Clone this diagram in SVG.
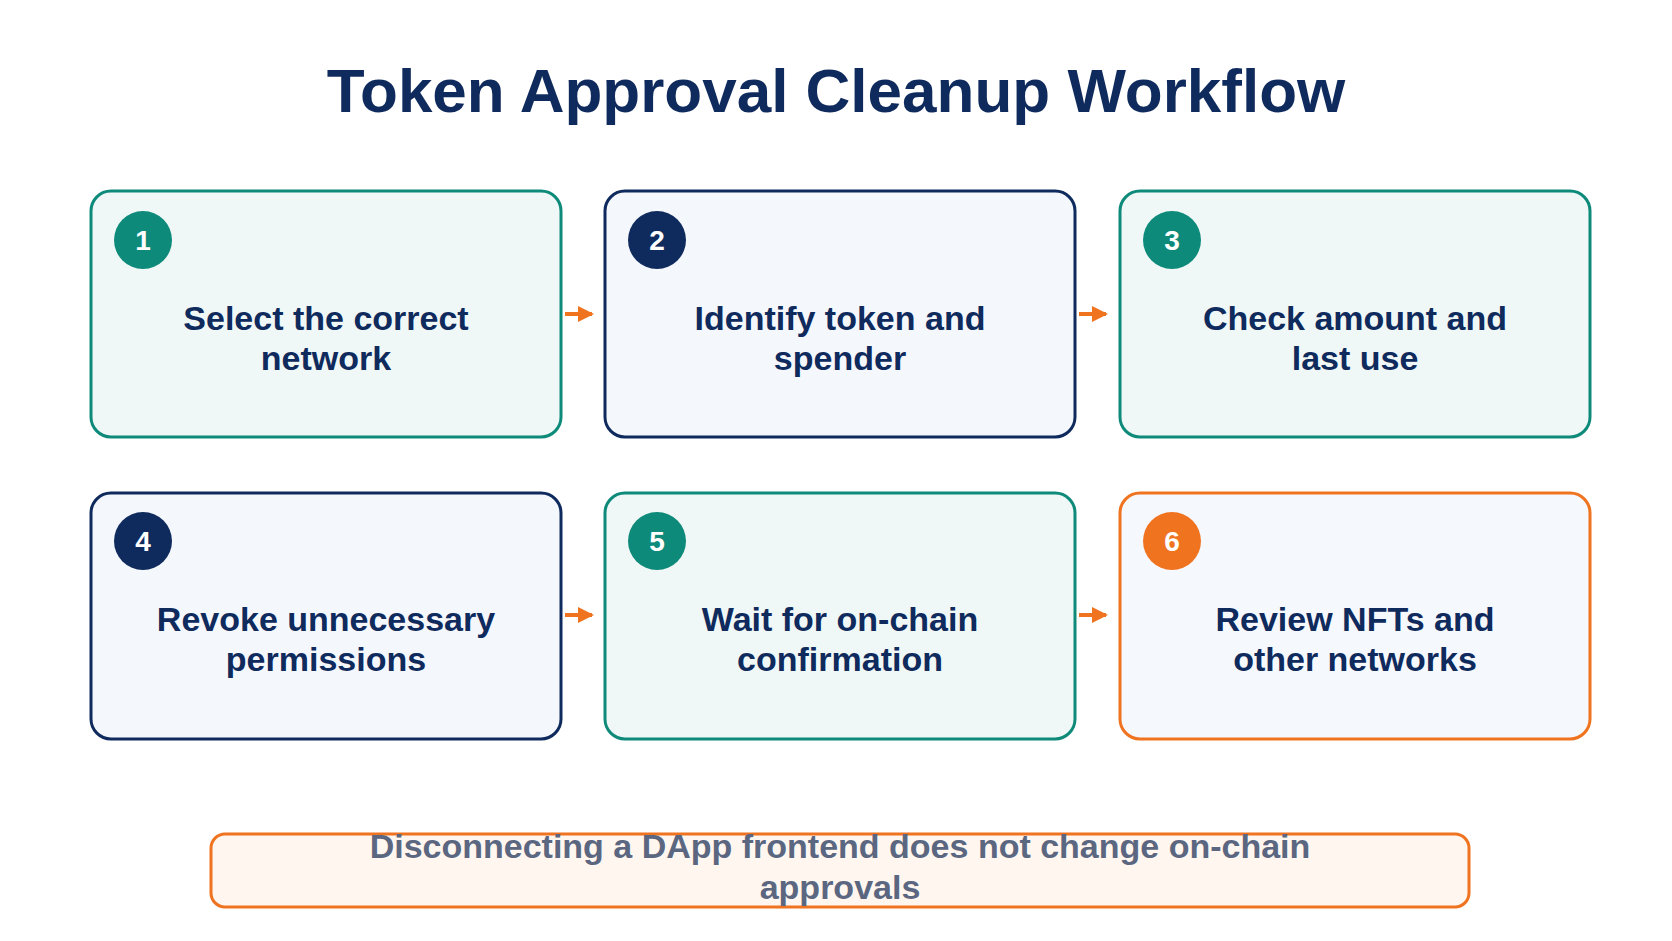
<svg xmlns="http://www.w3.org/2000/svg" width="1672" height="941" viewBox="0 0 1672 941">
<defs>
<style>
.t{font-family:"Liberation Sans",Arial,sans-serif;font-weight:bold;text-anchor:middle}
.lbl{font-size:34px;fill:#0f2a5c}
.num{font-size:28px;fill:#fff}
.bx{stroke-width:3}
.teal{fill:#eff8f6;stroke:#0e8a7a}
.navy{fill:#f4f7fc;stroke:#0f2a5c}
.orng{fill:#f5f8fc;stroke:#f07320}
</style>
<marker id="ah" markerWidth="4" markerHeight="4" refX="3.5" refY="2" orient="auto" markerUnits="strokeWidth"><path d="M0,0L4,2L0,4z" fill="#f07320"/></marker>
<clipPath id="cb"><rect x="211" y="834" width="1258" height="73" rx="14"/></clipPath>
</defs>
<rect width="1672" height="941" fill="#fff"/>
<text class="t" x="836" y="112" font-size="62" fill="#0f2a5c">Token Approval Cleanup Workflow</text>
<g id="connectors" stroke="#f07320" stroke-width="4" marker-end="url(#ah)">
<line x1="565" y1="314" x2="592" y2="314"/>
<line x1="1079" y1="314" x2="1106" y2="314"/>
<line x1="565" y1="615" x2="592" y2="615"/>
<line x1="1079" y1="615" x2="1106" y2="615"/>
</g>
<g id="n1"><rect class="bx teal" x="91" y="191" width="470" height="246" rx="20"/><circle cx="143" cy="240" r="29" fill="#0e8a7a"/><text class="t num" x="143" y="250">1</text><text class="t lbl" x="326" y="330">Select the correct</text><text class="t lbl" x="326" y="370">network</text></g>
<g id="n2"><rect class="bx navy" x="605" y="191" width="470" height="246" rx="20"/><circle cx="657" cy="240" r="29" fill="#0f2a5c"/><text class="t num" x="657" y="250">2</text><text class="t lbl" x="840" y="330">Identify token and</text><text class="t lbl" x="840" y="370">spender</text></g>
<g id="n3"><rect class="bx teal" x="1120" y="191" width="470" height="246" rx="20"/><circle cx="1172" cy="240" r="29" fill="#0e8a7a"/><text class="t num" x="1172" y="250">3</text><text class="t lbl" x="1355" y="330">Check amount and</text><text class="t lbl" x="1355" y="370">last use</text></g>
<g id="n4"><rect class="bx navy" x="91" y="493" width="470" height="246" rx="20"/><circle cx="143" cy="541" r="29" fill="#0f2a5c"/><text class="t num" x="143" y="551">4</text><text class="t lbl" x="326" y="631">Revoke unnecessary</text><text class="t lbl" x="326" y="671">permissions</text></g>
<g id="n5"><rect class="bx teal" x="605" y="493" width="470" height="246" rx="20"/><circle cx="657" cy="541" r="29" fill="#0e8a7a"/><text class="t num" x="657" y="551">5</text><text class="t lbl" x="840" y="631">Wait for on-chain</text><text class="t lbl" x="840" y="671">confirmation</text></g>
<g id="n6"><rect class="bx orng" x="1120" y="493" width="470" height="246" rx="20"/><circle cx="1172" cy="541" r="29" fill="#f07320"/><text class="t num" x="1172" y="551">6</text><text class="t lbl" x="1355" y="631">Review NFTs and</text><text class="t lbl" x="1355" y="671">other networks</text></g>
<g id="note"><rect x="211" y="834" width="1258" height="73" rx="14" fill="#fff6f0" stroke="#f07320" stroke-width="3"/>
<g clip-path="url(#cb)"><text class="t" x="840" y="858" font-size="34" fill="#5b6780">Disconnecting a DApp frontend does not change on-chain</text><text class="t" x="840" y="899" font-size="34" fill="#5b6780">approvals</text></g></g>
</svg>
